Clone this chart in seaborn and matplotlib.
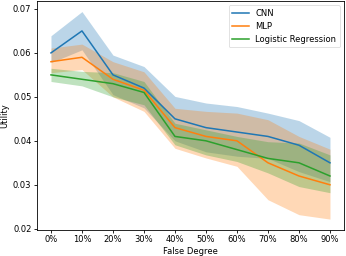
import numpy as np
import pandas as pd
import matplotlib
matplotlib.use("Agg")
import matplotlib.pyplot as plt
import seaborn as sns

degree_labels = ["0%", "10%", "20%", "30%", "40%", "50%", "60%", "70%", "80%", "90%"]
models = ["CNN", "MLP", "Logistic Regression"]

cnn_mid = [0.060, 0.065, 0.055, 0.052, 0.045, 0.043, 0.042, 0.041, 0.039, 0.035]
cnn_lo = [0.0578, 0.0607, 0.0505, 0.0475, 0.0400, 0.0375, 0.0365, 0.0360, 0.0330, 0.0307]
cnn_hi = [0.0639, 0.0694, 0.0595, 0.0569, 0.0501, 0.0486, 0.0478, 0.0463, 0.0446, 0.0408]

mlp_mid = [0.058, 0.059, 0.054, 0.0515, 0.043, 0.041, 0.040, 0.035, 0.032, 0.030]
mlp_lo = [0.0555, 0.0562, 0.0500, 0.0467, 0.0383, 0.0361, 0.0342, 0.0266, 0.0232, 0.0222]
mlp_hi = [0.0611, 0.0620, 0.0580, 0.0557, 0.0474, 0.0467, 0.0463, 0.0448, 0.0410, 0.0381]

lr_mid = [0.055, 0.054, 0.053, 0.051, 0.041, 0.040, 0.038, 0.036, 0.035, 0.032]
lr_lo = [0.0535, 0.0525, 0.0500, 0.0482, 0.0391, 0.0368, 0.0353, 0.0327, 0.0296, 0.0282]
lr_hi = [0.0565, 0.0558, 0.0555, 0.0535, 0.0440, 0.0425, 0.0410, 0.0398, 0.0395, 0.0368]

series = {
    "CNN": (cnn_lo, cnn_mid, cnn_hi),
    "MLP": (mlp_lo, mlp_mid, mlp_hi),
    "Logistic Regression": (lr_lo, lr_mid, lr_hi),
}

rows = []
for m in models:
    lo, mid, hi = series[m]
    for i in range(len(degree_labels)):
        for v in (lo[i], mid[i], hi[i]):
            rows.append({"pos": i, "Utility": v, "Model": m})
df = pd.DataFrame(rows)

plt.rcParams["font.size"] = 6.0
fig = plt.figure(figsize=(3.46, 2.56), dpi=100)
ax = fig.add_axes([0.107, 0.103, 0.887, 0.893])

sns.lineplot(data=df, x="pos", y="Utility", hue="Model", hue_order=models,
             palette=["#1f77b4", "#ff7f0e", "#2ca02c"],
             estimator="median", errorbar=("pi", 100), linewidth=1.1,
             err_kws={"alpha": 0.3, "linewidth": 0}, ax=ax)

ax.set_xticks(range(len(degree_labels)))
ax.set_xticklabels(degree_labels)
ax.set_xlim(-0.45, 9.45)
ax.set_ylim(0.0198, 0.0718)
ax.set_yticks([0.02, 0.03, 0.04, 0.05, 0.06, 0.07])
ax.set_xlabel("False Degree", labelpad=2)
ax.set_ylabel("Utility", labelpad=3)
ax.tick_params(length=2.0, width=0.6, pad=2)
for s in ax.spines.values():
    s.set_linewidth(0.6)
leg = ax.legend(loc="upper right", fontsize=6.0, frameon=True)
leg.get_frame().set_linewidth(0.5)
for line in leg.get_lines():
    line.set_linewidth(1.1)

fig.savefig("out.png", dpi=100)
